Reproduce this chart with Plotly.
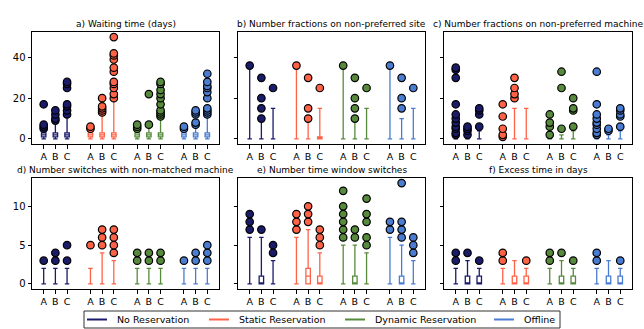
import plotly.graph_objects as go

# groups and categories
methods = ["No Reservation", "Static Reservation", "Dynamic Reservation", "Offline"]
colors = ["#1b1b6b", "#ff6347", "#578a3c", "#4a7dd1"]
cats = ["A", "B", "C"]

# box stats, order: NoRes A,B,C | Static A,B,C | Dynamic A,B,C | Offline A,B,C
# a) waiting time
a_q1 = [1, 1, 1, 1, 1, 1, 1, 1, 1, 1, 1, 1]
a_med = [2, 2, 2, 2, 2, 2, 2, 2, 2, 2, 2, 2]
a_q3 = [3, 3, 3, 3, 3, 3, 3, 3, 3, 3, 3, 3]
a_lo = [0, 0, 0, 0, 0, 0, 0, 0, 0, 0, 0, 0]
a_hi = [4, 8, 11, 4, 12, 19, 4, 6, 10, 4, 6, 11]
a_out = [[5, 6, 7, 17], [9, 10, 12, 14], [12, 14, 16, 17, 25, 27, 28],
         [5, 6], [13, 14, 15, 16, 20], [20, 22, 25, 27, 28, 33, 35, 39, 41, 42, 50],
         [5, 6, 7], [7, 22], [11, 12, 13, 14, 17, 20, 22, 24, 27, 28],
         [5, 6], [7, 8, 12, 13, 14], [12, 13, 14, 15, 20, 23, 25, 26, 28, 32]]

# b) fractions on non-preferred site
b_q1 = [0, 0, 0, 0, 0, 0, 0, 0, 0, 0, 0, 0]
b_med = [0, 0, 0, 0, 0, 0, 0, 0, 0, 0, 0, 0]
b_q3 = [0, 0, 0, 0, 0, 1, 0, 0, 0, 0, 0, 0]
b_lo = [0, 0, 0, 0, 0, 0, 0, 0, 0, 0, 0, 0]
b_hi = [36, 9, 15, 36, 9, 15, 36, 9, 15, 36, 10, 15]
b_out = [[36], [10, 15, 20, 30], [25],
         [36], [10, 15, 30], [25],
         [36], [10, 15, 20, 30], [25],
         [36], [15, 20, 30], [25]]

# c) fractions on non-preferred machine
c_q1 = [0, 0, 0, 0, 0, 0, 0, 0, 0, 0, 0, 0]
c_med = [0, 0, 0, 0, 0, 0, 0, 0, 0, 0, 0, 0]
c_q3 = [0, 0, 0, 0, 0, 0, 0, 0, 0, 0, 0, 0]
c_lo = [0, 0, 0, 0, 0, 0, 0, 0, 0, 0, 0, 0]
c_hi = [1, 1, 4, 0, 15, 15, 1, 2, 4, 1, 2, 4]
c_out = [[2, 3, 5, 6, 8, 10, 12, 17, 30, 34, 35], [2, 4, 5, 6], [6, 12, 14, 15],
         [1, 2, 5, 11, 17], [20, 22, 25, 30], [],
         [2, 6, 8, 12], [5, 25, 33], [6, 14, 15, 20],
         [2, 3, 5, 7, 8, 10, 12, 17, 33], [4, 5], [6, 11, 12, 14, 15]]

# d) switches with non-matched machine
d_q1 = [0, 0, 0, 0, 0, 0, 0, 0, 0, 0, 0, 0]
d_med = [0, 0, 0, 0, 0, 0, 0, 0, 0, 0, 0, 0]
d_q3 = [0, 0, 0, 0, 0, 0, 0, 0, 0, 0, 0, 0]
d_lo = [0, 0, 0, 0, 0, 0, 0, 0, 0, 0, 0, 0]
d_hi = [2, 2, 2, 2, 4, 3, 2, 2, 2, 2, 2, 2]
d_out = [[3], [3, 4], [3, 5],
         [5], [5, 6, 7], [4, 5, 6, 7],
         [3, 4], [3, 4], [3, 4],
         [3], [3, 4], [3, 4, 5]]

# e) time window switches
e_q1 = [0, 0, 0, 0, 0, 0, 0, 0, 0, 0, 0, 0]
e_med = [0, 0, 0, 0, 1, 0, 0, 0, 0, 0, 0, 0]
e_q3 = [0, 1, 0, 0, 2, 1, 0, 1, 0, 0, 1, 0]
e_lo = [0, 0, 0, 0, 0, 0, 0, 0, 0, 0, 0, 0]
e_hi = [6, 6, 3, 6, 7, 4, 5, 5, 4, 6, 5, 3]
e_out = [[7, 8, 9], [7], [4, 5],
         [7, 8, 9], [8, 9, 10], [5, 6, 7],
         [6, 7, 8, 9, 10, 12], [6, 7], [5, 6, 8, 9, 11],
         [7, 8], [6, 7, 8, 13], [4, 5, 6]]

# f) excess time
f_q1 = [0, 0, 0, 0, 0, 0, 0, 0, 0, 0, 0, 0]
f_med = [0, 0, 0, 0, 0, 0, 0, 0, 0, 0, 0, 0]
f_q3 = [0, 1, 1, 0, 1, 1, 0, 1, 1, 0, 1, 1]
f_lo = [0, 0, 0, 0, 0, 0, 0, 0, 0, 0, 0, 0]
f_hi = [2, 3, 2, 2, 3, 2, 2, 3, 2, 2, 3, 2]
f_out = [[3, 4], [4], [3],
         [3, 4], [], [3],
         [3, 4], [4], [3],
         [3, 4], [], [3]]

titles = ["a) Waiting time (days)",
          "b) Number fractions on non-preferred site",
          "c) Number fractions on non-preferred machine",
          "d) Number switches with non-matched machine",
          "e) Number time window switches",
          "f) Excess time in days"]

panels = [
    (a_q1, a_med, a_q3, a_lo, a_hi, a_out),
    (b_q1, b_med, b_q3, b_lo, b_hi, b_out),
    (c_q1, c_med, c_q3, c_lo, c_hi, c_out),
    (d_q1, d_med, d_q3, d_lo, d_hi, d_out),
    (e_q1, e_med, e_q3, e_lo, e_hi, e_out),
    (f_q1, f_med, f_q3, f_lo, f_hi, f_out),
]

W, H = 644, 329
col_px = [(32, 219), (238, 425), (444, 632)]
row_px = [(32, 144), (178, 289)]
row_range = [[-2.5, 52.5], [-0.65, 13.65]]
row_ticks = [[0, 20, 40], [0, 5, 10]]

positions = [1 + 4 * m + k for m in range(4) for k in range(3)]

fig = go.Figure()
layout = dict(width=W, height=H, margin=dict(l=0, r=0, t=0, b=0),
              plot_bgcolor="white", paper_bgcolor="white",
              font=dict(family="DejaVu Sans", size=10, color="black"),
              annotations=[], shapes=[], showlegend=False)

for i, (q1, med, q3, lo, hi, out) in enumerate(panels):
    r, c = divmod(i, 3)
    sfx = "" if i == 0 else str(i + 1)
    xa, ya = "x" + sfx, "y" + sfx
    for j, pos in enumerate(positions):
        col = colors[j // 3]
        fig.add_trace(go.Box(
            x=[pos], q1=[q1[j]], median=[med[j]], q3=[q3[j]],
            lowerfence=[lo[j]], upperfence=[hi[j]],
            width=0.38, whiskerwidth=1, boxpoints=False,
            line=dict(color=col, width=1.3), fillcolor="white",
            hoverinfo="skip", xaxis=xa, yaxis=ya))
        if out[j]:
            fig.add_trace(go.Scatter(
                x=[pos] * len(out[j]), y=out[j], mode="markers",
                marker=dict(size=7.5, color=col, line=dict(color="black", width=1.2)),
                hoverinfo="skip", xaxis=xa, yaxis=ya))

    x0, x1 = col_px[c]
    y0, y1 = row_px[r]
    layout["xaxis" + sfx] = dict(
        domain=[x0 / W, x1 / W], range=[0, 16], anchor=ya,
        tickmode="array", tickvals=positions, ticktext=cats * 4,
        ticks="outside", ticklen=3.5, tickcolor="black", tickfont=dict(size=9.5),
        showline=True, mirror=True, linecolor="black", linewidth=1,
        showgrid=False, zeroline=False, automargin=False, fixedrange=True)
    layout["yaxis" + sfx] = dict(
        domain=[1 - y1 / H, 1 - y0 / H], range=row_range[r], anchor=xa,
        tickmode="array", tickvals=row_ticks[r], showticklabels=(c == 0),
        ticks="outside", ticklen=3.5, tickcolor="black", tickfont=dict(size=10),
        showline=True, mirror=True, linecolor="black", linewidth=1,
        showgrid=False, zeroline=False, automargin=False, fixedrange=True)
    layout["annotations"].append(dict(
        text=titles[i], x=(x0 + x1) / 2 / W, y=1 - (y0 - 1) / H,
        xref="paper", yref="paper", xanchor="center", yanchor="bottom",
        showarrow=False, font=dict(size=9)))

# legend drawn by hand, matplotlib style: thin frame, 20px line handles
leg_box = (84, 311, 560, 328)
leg_text_x = [115, 237, 373, 522]
leg_y = (leg_box[1] + leg_box[3]) / 2
layout["shapes"].append(dict(
    type="rect", xref="paper", yref="paper",
    x0=leg_box[0] / W, x1=leg_box[2] / W,
    y0=1 - leg_box[3] / H, y1=1 - leg_box[1] / H,
    line=dict(color="#333333", width=1), fillcolor="white", layer="above"))
for name, col, tx in zip(methods, colors, leg_text_x):
    layout["shapes"].append(dict(
        type="line", xref="paper", yref="paper",
        x0=(tx - 28) / W, x1=(tx - 8) / W, y0=1 - leg_y / H, y1=1 - leg_y / H,
        line=dict(color=col, width=2), layer="above"))
    layout["annotations"].append(dict(
        text=name, x=tx / W, y=1 - leg_y / H, xref="paper", yref="paper",
        xanchor="left", yanchor="middle", showarrow=False, font=dict(size=9.5)))

fig.update_layout(**layout)
# page body has a default 8px margin, drop it so the figure fills the window
fig.write_html("out.html", config={"displayModeBar": False},
               post_script="document.body.style.margin='0';")
